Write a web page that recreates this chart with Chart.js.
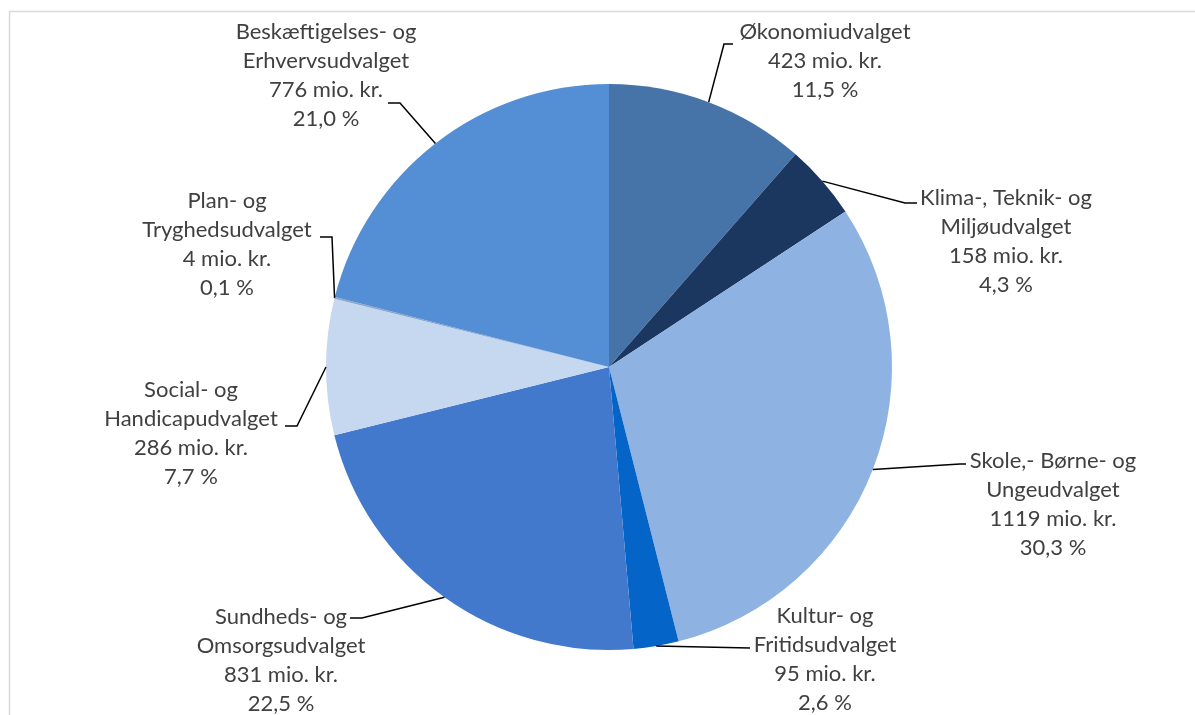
<!DOCTYPE html>
<html>
<head>
<meta charset="utf-8">
<script src="https://cdn.jsdelivr.net/npm/chart.js@4/dist/chart.umd.min.js"></script>
<style>
html,body{margin:0;padding:0;background:#fff;}
canvas{display:block;}
</style>
</head>
<body>
<canvas id="c" width="1195" height="715"></canvas>
<script>
// ---- data ----
const categories = [
  ["Økonomiudvalget"],
  ["Klima-, Teknik- og", "Miljøudvalget"],
  ["Skole,- Børne- og", "Ungeudvalget"],
  ["Kultur- og", "Fritidsudvalget"],
  ["Sundheds- og", "Omsorgsudvalget"],
  ["Social- og", "Handicapudvalget"],
  ["Plan- og", "Tryghedsudvalget"],
  ["Beskæftigelses- og", "Erhvervsudvalget"]
];
const amounts = [423, 158, 1119, 95, 831, 286, 4, 776];
const percentLabels = ["11,5 %", "4,3 %", "30,3 %", "2,6 %", "22,5 %", "7,7 %", "0,1 %", "21,0 %"];
const sliceColors = ["#4674A8", "#1B365F", "#8EB2E1", "#0564C8", "#4379CC", "#C6D8F0", "#8FA6C8", "#548ED5"];

// ---- label layout (offsets from pie centre, px) ----
const labelLayout = [
  {tx: 216, ty: -335, ex: 115, ey: -323, hx: 124},
  {tx: 397, ty: -169, ex: 296, ey: -164, hx: 308},
  {tx: 444, ty: 94,  ex: 351, ey: 97,  hx: 357},
  {tx: 216, ty: 249, ex: 141, ey: 281, hx: 141},
  {tx: -328, ty: 250, ex: -247, ey: 251, hx: -259},
  {tx: -418, ty: 23,  ex: -312, ey: 59,  hx: -324},
  {tx: -382, ty: -166, ex: -277, ey: -130, hx: -289},
  {tx: -283, ty: -335, ex: -209, ey: -264, hx: -221}
];

const frame = {
  id: 'frame',
  beforeDraw(chart) {
    const ctx = chart.ctx;
    ctx.save();
    ctx.strokeStyle = '#d9d9d9';
    ctx.lineWidth = 1.5;
    ctx.strokeRect(9.5, 11.5, 1400, 900);
    ctx.restore();
  }
};

const labels = {
  id: 'pieLabels',
  afterDraw(chart) {
    const ctx = chart.ctx;
    const meta = chart.getDatasetMeta(0);
    ctx.save();
    meta.data.forEach((arc, i) => {
      const p = arc.getProps(['x', 'y', 'startAngle', 'endAngle', 'outerRadius'], true);
      const mid = (p.startAngle + p.endAngle) / 2;
      const sx = p.x + Math.cos(mid) * p.outerRadius;
      const sy = p.y + Math.sin(mid) * p.outerRadius;
      const L = labelLayout[i];
      ctx.strokeStyle = '#000';
      ctx.lineWidth = 1.5;
      ctx.beginPath();
      ctx.moveTo(sx, sy);
      ctx.lineTo(p.x + L.ex, p.y + L.ey);
      ctx.lineTo(p.x + L.hx, p.y + L.ey);
      ctx.stroke();
      const lines = categories[i].concat([amounts[i] + ' mio. kr.', percentLabels[i]]);
      ctx.fillStyle = '#404040';
      ctx.font = '22px Lato, "Open Sans", sans-serif';
      ctx.textAlign = 'center';
      ctx.textBaseline = 'middle';
      lines.forEach((t, k) => {
        ctx.fillText(t, p.x + L.tx, p.y + L.ty + k * 29);
      });
    });
    ctx.restore();
  }
};

new Chart(document.getElementById('c'), {
  type: 'pie',
  data: {
    labels: categories.map(c => c.join(' ')),
    datasets: [{
      data: amounts,
      backgroundColor: sliceColors,
      borderWidth: 0
    }]
  },
  options: {
    responsive: false,
    animation: false,
    layout: { padding: { left: 326, right: 303, top: 84, bottom: 65 } },
    plugins: { legend: { display: false }, tooltip: { enabled: false } }
  },
  plugins: [frame, labels]
});
</script>
</body>
</html>
